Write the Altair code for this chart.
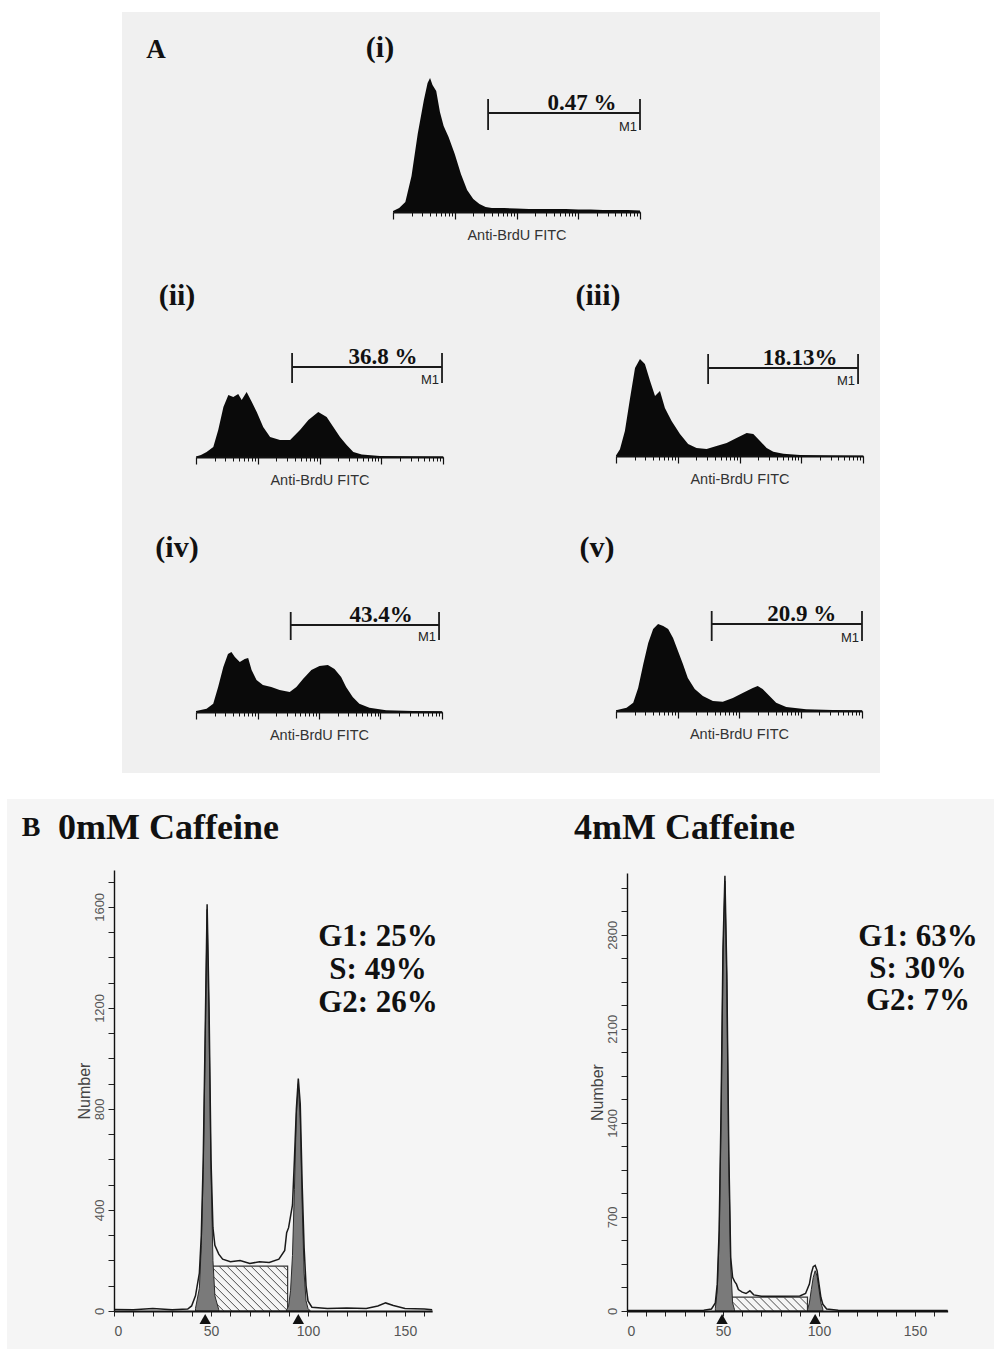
import altair as alt
import pandas as pd

W, H = 994, 1349
SERIF = "Liberation Serif"
SANS = "Liberation Sans"

# ------------------------------------------------------------------
# Panel A : BrdU histograms (channel 0-1000, counts)
# ------------------------------------------------------------------
A1_CH = [0, 25, 50, 75, 100, 125, 140, 150, 160, 175, 190, 205, 225, 250, 275, 300, 325, 350, 375,
         400, 450, 500, 550, 600, 650, 700, 750, 800, 850, 900, 950, 1000]
A1_CNT = [1, 4, 10, 36, 78, 112, 129, 134, 127, 121, 100, 86, 75, 58, 38, 22, 13, 8, 5,
          4, 4, 3.5, 3, 3, 3, 3, 2.5, 2.5, 2, 2, 2, 1.5]

A2_CH = [0, 20, 43, 70, 90, 111, 131, 151, 171, 185, 205, 226, 246, 272, 300, 340, 381, 421, 455,
         495, 529, 556, 583, 610, 637, 671, 745, 850, 1000]
A2_CNT = [0.5, 2, 5, 10, 27, 50, 62, 60, 63, 57, 65, 55, 45, 30, 20, 17, 17, 27, 37,
          45, 40, 30, 20, 12, 5, 2.5, 1, 0.8, 0.5]

A3_CH = [0, 16, 36, 57, 77, 97, 117, 138, 158, 178, 198, 225, 259, 292, 326, 367, 407, 448, 488,
         529, 556, 583, 610, 637, 678, 745, 879, 1000]
A3_CNT = [0.5, 6.7, 25, 58, 88, 97, 92, 75, 60, 65, 48, 35, 22, 12, 8, 7, 10, 13, 18,
          23, 22, 15, 8, 4.3, 2.3, 1, 0.5, 0.3]

A4_CH = [0, 43, 70, 90, 111, 130, 144, 158, 178, 198, 212, 226, 246, 272, 306, 340, 381, 408, 435,
         469, 502, 536, 563, 590, 610, 637, 664, 705, 773, 881, 1000]
A4_CNT = [1, 3.3, 8.3, 25, 45, 58, 60, 55, 50, 53, 54, 42, 32, 27, 25, 22, 20, 25, 33,
          42, 46, 47, 43, 35, 25, 15, 8.3, 4.3, 1.7, 1, 0.7]

A5_CH = [0, 43, 70, 90, 111, 131, 151, 171, 192, 212, 232, 252, 272, 292, 320, 353, 394, 434, 475,
         515, 556, 576, 596, 624, 651, 692, 773, 880, 1000]
A5_CNT = [0.7, 3.3, 8.3, 23, 47, 68, 82, 87, 85, 82, 73, 60, 47, 33, 22, 15, 10, 9.3, 13,
          18, 23, 25, 22, 15, 8.3, 4, 1.7, 1, 0.7]

A_CH = [A1_CH, A2_CH, A3_CH, A4_CH, A5_CH]
A_CNT = [A1_CNT, A2_CNT, A3_CNT, A4_CNT, A5_CNT]

A_PCT = ["0.47 %", "36.8 %", "18.13%", "43.4%", "20.9 %"]
A_PCT_X = [765, 757, 745, 753, 755]
A_BRACKET_L = [385, 389, 373, 385, 389]
A_BRACKET_R = [1000, 996, 980, 988, 1000]
A_BRACKET_LEVEL = [99, 90, 88, 87, 87]
A_BRACKET_LO = [82, 74, 72, 72, 70]
A_BRACKET_HI = [113, 104, 102, 100, 100]

LOG_TICKS = [1, 2, 3, 4, 5, 6, 7, 8, 9, 10, 20, 30, 40, 50, 60, 70, 80, 90,
             100, 200, 300, 400, 500, 600, 700, 800, 900,
             1000, 2000, 3000, 4000, 5000, 6000, 7000, 8000, 9000, 10000]
DECADES = [1, 10, 100, 1000, 10000]

# ------------------------------------------------------------------
# Panel B : DNA content histograms
# ------------------------------------------------------------------
B0_CH = [0, 10, 20, 30, 38, 40, 42, 44, 45, 46, 47, 48, 49, 50, 51, 52, 54, 56, 60, 65, 70, 75, 80,
         85, 88, 89, 90, 92, 93, 94, 95, 96, 97, 98, 99, 100, 102, 110, 120, 130, 136, 140, 144,
         150, 160, 164]
B0_CNT = [6, 5, 10, 5, 8, 20, 60, 150, 300, 600, 1100, 1610, 1200, 600, 330, 260, 225, 205, 195,
          200, 188, 195, 192, 205, 240, 310, 330, 420, 600, 800, 920, 820, 500, 250, 100, 40, 15,
          10, 12, 10, 20, 32, 22, 10, 8, 5]
B0_G1_CH = [42, 44, 45, 46, 47, 48, 49, 50, 51, 52, 54]
B0_G1_CNT = [10, 90, 260, 560, 1060, 1590, 1150, 560, 200, 60, 5]
B0_G2_CH = [89, 90, 91, 92, 93, 94, 95, 96, 97, 98, 99, 100, 101]
B0_G2_CNT = [5, 20, 80, 220, 480, 780, 900, 760, 420, 150, 40, 10, 2]
B0_S = [50, 89.5, 178]          # start, end, height
B0_MARK = [47, 95]
B0_PHASE = ["G1: 25%", "S: 49%", "G2: 26%"]

B4_CH = [0, 20, 40, 44, 46, 47, 48, 49, 50, 51, 52, 53, 54, 55, 56, 57, 58, 60, 62, 64, 66, 70,
         80, 90, 93, 95, 96, 97, 98, 99, 100, 101, 102, 104, 110, 150, 167]
B4_CNT = [3, 3, 5, 15, 60, 200, 600, 1500, 2700, 3240, 2500, 1200, 400, 250, 220, 200, 160, 140,
          130, 150, 120, 110, 110, 112, 130, 200, 280, 330, 340, 300, 200, 100, 50, 15, 5, 3, 3]
B4_G1_CH = [46, 47, 48, 49, 50, 51, 52, 53, 54, 55, 56]
B4_G1_CNT = [20, 150, 550, 1450, 2650, 3200, 2450, 1150, 350, 60, 10]
B4_G2_CH = [94, 95, 96, 97, 98, 99, 100, 101, 102]
B4_G2_CNT = [10, 60, 160, 250, 300, 260, 160, 60, 15]
B4_S = [53, 94, 104]
B4_MARK = [49.5, 98]
B4_PHASE = ["G1: 63%", "S: 30%", "G2: 7%"]

B_XTICKS = [0, 10, 20, 30, 40, 50, 60, 70, 80, 90, 100, 110, 120, 130, 140, 150, 160]
B0_YTICKS = [0, 100, 200, 300, 400, 500, 600, 700, 800, 900, 1000, 1100, 1200, 1300, 1400,
             1500, 1600, 1700]
B4_YTICKS = [0, 175, 350, 525, 700, 875, 1050, 1225, 1400, 1575, 1750, 1925, 2100, 2275, 2450,
             2625, 2800, 2975, 3150]

# ------------------------------------------------------------------
# layout (pixels)
# ------------------------------------------------------------------
A_LAYOUT = [(393, 640, 212), (196, 443, 457), (616, 863, 456), (196, 442, 712), (616, 862, 711)]
# x0, px per channel, xmax, baseline, y top px, ymax, label step
B_LAYOUT = [(114, 1.94, 164, 1311, 870, 1746, 400), (627, 1.92, 167, 1311, 873, 3260, 700)]


def panel_a(i):
    x0, x1, base = A_LAYOUT[i]
    xs = alt.Scale(domain=[0, 1000], range=[x0, x1], nice=False, zero=False)
    ys = alt.Scale(domain=[0, 150], range=[base, base - 150], nice=False, zero=False)
    X = lambda f: alt.X(f, type="quantitative", scale=xs, axis=None)
    Y = lambda f: alt.Y(f, type="quantitative", scale=ys, axis=None)

    hist = alt.Chart(pd.DataFrame({"ch": A_CH[i], "cnt": A_CNT[i]})).mark_area(
        color="#0a0a0a", interpolate="linear").encode(x=X("ch"), y=Y("cnt"))
    hbar = alt.Chart(pd.DataFrame({"l": [A_BRACKET_L[i]], "r": [A_BRACKET_R[i]],
                                   "lev": [A_BRACKET_LEVEL[i]]})).mark_rule(
        color="#1a1a1a", strokeWidth=1.8).encode(x=X("l"), x2="r:Q", y=Y("lev"))
    vbar = alt.Chart(pd.DataFrame({"x": [A_BRACKET_L[i], A_BRACKET_R[i]],
                                   "lo": [A_BRACKET_LO[i]] * 2, "hi": [A_BRACKET_HI[i]] * 2})).mark_rule(
        color="#1a1a1a", strokeWidth=1.8).encode(x=X("x"), y=Y("lo"), y2="hi:Q")
    pct = alt.Chart(pd.DataFrame({"x": [A_PCT_X[i]], "y": [A_BRACKET_LEVEL[i] + 3],
                                  "t": [A_PCT[i]]})).mark_text(
        font=SERIF, fontWeight="bold", fontSize=23, baseline="alphabetic", align="center",
        color="#111").encode(x=X("x"), y=Y("y"), text="t:N")
    m1 = alt.Chart(pd.DataFrame({"x": [A_BRACKET_R[i] - 12], "y": [A_BRACKET_LO[i] - 1],
                                 "t": ["M1"]})).mark_text(
        font=SANS, fontSize=13, baseline="alphabetic", align="right",
        color="#222").encode(x=X("x"), y=Y("y"), text="t:N")
    inner = alt.layer(hist, hbar, vbar, pct, m1)

    adf = pd.DataFrame({"v": [1, 10000]})
    lscale = alt.Scale(type="log", domain=[1, 10000], range=[x0, x1], nice=False)
    minor = alt.Chart(adf).mark_point(opacity=0).encode(
        x=alt.X("v:Q", scale=lscale, axis=alt.Axis(
            orient="bottom", offset=base - H, values=LOG_TICKS, labels=False, grid=False,
            tickSize=4, tickWidth=1, tickColor="#111", domainColor="#111", domainWidth=1.8,
            title="Anti-BrdU FITC", titleFont=SANS, titleFontSize=14.5, titleFontWeight="normal",
            titleColor="#333", titlePadding=12, zindex=2)))
    major = alt.Chart(adf).mark_point(opacity=0).encode(
        x=alt.X("v:Q", scale=lscale, axis=alt.Axis(
            orient="bottom", offset=base - H, values=DECADES, labels=False, grid=False,
            tickSize=7, tickWidth=1.2, tickColor="#111", domain=False, title=None, zindex=2)))
    return [inner, minor, major]


def hatch_segments(s0, s1, sh, ppx, ppy, gap=8.0):
    w = (s1 - s0) * ppx
    h = sh * ppy
    rows = []
    c = gap * 0.6
    while c < w + h:
        u1 = max(0.0, c - h)
        u2 = min(w, c)
        rows.append({"x": s0 + u1 / ppx, "y": (c - u1) / ppy,
                     "x2": s0 + u2 / ppx, "y2": (c - u2) / ppy})
        c += gap
    return pd.DataFrame(rows)


def panel_b(j, ch, cnt, g1c, g1n, g2c, g2n, srect, marks, yticks):
    x0, ppx, xmax, base, ytop, ymax, lstep = B_LAYOUT[j]
    ppy = (base - ytop) / ymax
    xs = alt.Scale(domain=[0, xmax], range=[x0, x0 + ppx * xmax], nice=False, zero=False)
    ys = alt.Scale(domain=[0, ymax], range=[base, ytop], nice=False, zero=False)
    X = lambda f: alt.X(f, type="quantitative", scale=xs, axis=None)
    Y = lambda f: alt.Y(f, type="quantitative", scale=ys, axis=None)

    s0, s1, sh = srect
    srect_c = alt.Chart(pd.DataFrame({"a": [s0], "b": [s1], "z": [0], "t": [sh]})).mark_rect(
        fill="white", fillOpacity=0.0, stroke="#333", strokeWidth=1.2).encode(
        x=X("a"), x2="b:Q", y=Y("z"), y2="t:Q")
    hatch = alt.Chart(hatch_segments(s0, s1, sh, ppx, ppy)).mark_rule(
        color="#4a4a4a", strokeWidth=1.0).encode(x=X("x"), x2="x2:Q", y=Y("y"), y2="y2:Q")
    g1 = alt.Chart(pd.DataFrame({"ch": g1c, "cnt": g1n})).mark_area(
        fill="#7a7a7a", stroke="#2a2a2a", strokeWidth=1.0, interpolate="linear").encode(
        x=X("ch"), y=Y("cnt"))
    g2 = alt.Chart(pd.DataFrame({"ch": g2c, "cnt": g2n})).mark_area(
        fill="#7a7a7a", stroke="#2a2a2a", strokeWidth=1.0, interpolate="linear").encode(
        x=X("ch"), y=Y("cnt"))
    total = alt.Chart(pd.DataFrame({"ch": ch, "cnt": cnt})).mark_line(
        color="#1a1a1a", strokeWidth=1.5, interpolate="linear").encode(x=X("ch"), y=Y("cnt"))
    mk = alt.Chart(pd.DataFrame({"ch": marks, "z": [0] * len(marks)})).mark_point(
        shape="triangle-up", filled=True, color="#111", size=130, opacity=1, yOffset=8).encode(
        x=X("ch"), y=Y("z"))
    inner = alt.layer(srect_c, hatch, g1, g2, total, mk)

    # axes carried by an invisible layer with identical scales
    xaxis = alt.Axis(orient="bottom", offset=base - H, values=B_XTICKS, grid=False, format="d",
                     labelExpr="datum.value % 50 === 0 ? datum.label : ''",
                     tickSize=5, tickColor="#222", domainColor="#111", domainWidth=1.8,
                     labelFont=SANS, labelFontSize=14, labelColor="#555", labelPadding=8,
                     title=None, zindex=2)
    yaxis = alt.Axis(orient="left", offset=-x0, values=yticks, grid=False, format="d",
                     labelExpr="datum.value % " + str(lstep) + " === 0 ? datum.label : ''",
                     labelAngle=270, labelAlign="center", labelBaseline="bottom",
                     tickSize=6, tickColor="#222", domainColor="#111", domainWidth=1.4,
                     labelFont=SANS, labelFontSize=13, labelColor="#555", labelPadding=2,
                     title="Number", titleFont=SANS, titleFontSize=16, titleFontWeight="normal",
                     titleColor="#444", titlePadding=1, zindex=2)
    axl = alt.Chart(pd.DataFrame({"ch": [0, xmax], "cnt": [0, ymax]})).mark_point(opacity=0).encode(
        x=alt.X("ch:Q", scale=xs, axis=xaxis), y=alt.Y("cnt:Q", scale=ys, axis=yaxis))
    return [inner, axl]


def px_text(texts, xs, ys, size, align="center", font=SERIF, weight="bold", color="#111"):
    df = pd.DataFrame({"t": texts, "px": xs, "py": ys})
    return alt.Chart(df).mark_text(font=font, fontWeight=weight, fontSize=size, align=align,
                                   baseline="middle", color=color).encode(
        x=alt.X("px:Q", scale=None, axis=None), y=alt.Y("py:Q", scale=None, axis=None),
        text="t:N")


bg = alt.Chart(pd.DataFrame({"x": [122, 7], "x2": [880, 994], "y": [12, 799], "y2": [773, 1349],
                             "c": ["#f0f0f0", "#f5f5f5"]})).mark_rect().encode(
    x=alt.X("x:Q", scale=None, axis=None), x2="x2:Q",
    y=alt.Y("y:Q", scale=None, axis=None), y2="y2:Q",
    color=alt.Color("c:N", scale=None))

layers = [bg]
for k in range(5):
    layers.extend(panel_a(k))
layers.extend(panel_b(0, B0_CH, B0_CNT, B0_G1_CH, B0_G1_CNT, B0_G2_CH, B0_G2_CNT, B0_S, B0_MARK,
                      B0_YTICKS))
layers.extend(panel_b(1, B4_CH, B4_CNT, B4_G1_CH, B4_G1_CNT, B4_G2_CH, B4_G2_CNT, B4_S, B4_MARK,
                      B4_YTICKS))

layers.append(px_text(["A"], [156], [50], 27))
layers.append(px_text(["(i)", "(ii)", "(iii)", "(iv)", "(v)"],
                      [380, 177, 598, 177, 597], [48, 296, 296, 548, 548], 30))
layers.append(px_text(["B"], [31], [828], 28))
layers.append(px_text(["0mM Caffeine", "4mM Caffeine"], [58, 574], [828, 828], 36, align="left"))
layers.append(px_text(B0_PHASE + B4_PHASE, [378, 378, 378, 918, 918, 918],
                      [937, 970, 1003, 937, 969, 1001], 31))

chart = alt.layer(*layers).resolve_scale(x="independent", y="independent").properties(
    width=W, height=H, padding=0, background="white",
    autosize=alt.AutoSizeParams(type="none")
).configure_view(stroke=None)

chart.save("out.html", embed_options={"renderer": "svg", "actions": False})
